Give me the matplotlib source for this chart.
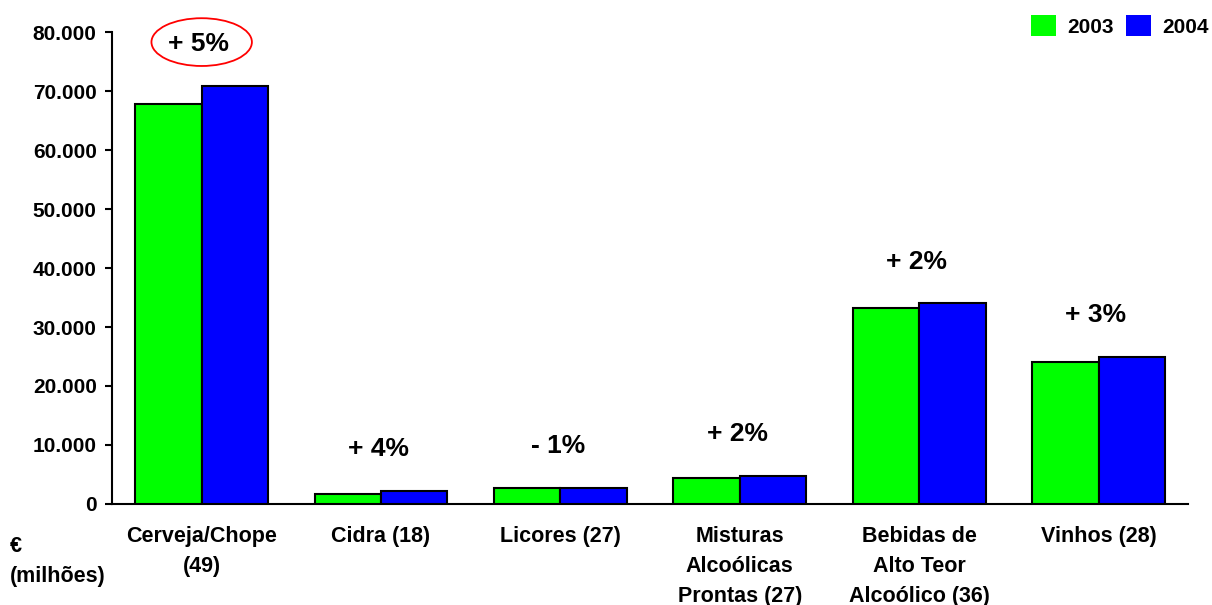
import matplotlib.pyplot as plt
import numpy as np
from matplotlib.patches import Ellipse, Patch
from matplotlib.ticker import FuncFormatter

plt.rcParams['font.family'] = ['Liberation Sans', 'DejaVu Sans']
plt.rcParams['font.weight'] = 'bold'

# Vendas por categoria de bebida, em milhões de euros
categorias = ['Cerveja/Chope\n(49)', 'Cidra (18)', 'Licores (27)',
              'Misturas\nAlcoólicas\nProntas (27)',
              'Bebidas de\nAlto Teor\nAlcoólico (36)', 'Vinhos (28)']
vendas_2003 = [67800, 1700, 2700, 4400, 33200, 24000]
vendas_2004 = [70850, 2200, 2700, 4750, 34000, 24900]
variacao = ['+ 5%', '+ 4%', '- 1%', '+ 2%', '+ 2%', '+ 3%']

cor_2003 = '#00ff00'
cor_2004 = '#0000ff'

fig = plt.figure(figsize=(12.12, 6.05), dpi=100)
ax = fig.add_axes([0.0924, 0.167, 0.888, 0.780])

x = np.arange(len(categorias))
w = 0.37
ax.bar(x - w / 2, vendas_2003, w, color=cor_2003, edgecolor='black', linewidth=1.5, zorder=3)
ax.bar(x + w / 2, vendas_2004, w, color=cor_2004, edgecolor='black', linewidth=1.5, zorder=3)

ax.set_xlim(-0.5, len(categorias) - 0.5)
ax.set_ylim(0, 80000)
ax.set_yticks(np.arange(0, 80001, 10000))
ax.yaxis.set_major_formatter(FuncFormatter(lambda v, p: f'{int(v):,}'.replace(',', '.')))
ax.tick_params(axis='y', labelsize=15, length=5, width=1.5, direction='out', pad=6)
ax.set_xticks(x)
ax.set_xticklabels(categorias, fontsize=15.5, linespacing=1.55)
ax.tick_params(axis='x', length=0, pad=16)

for lado in ['top', 'right']:
    ax.spines[lado].set_visible(False)
for lado in ['left', 'bottom']:
    ax.spines[lado].set_linewidth(1.5)

# variação 2003 -> 2004 acima de cada grupo
for i, txt in enumerate(variacao):
    topo = max(vendas_2003[i], vendas_2004[i])
    ax.annotate(txt, (x[i], topo), xytext=(-2, 30), textcoords='offset points',
                ha='center', va='center', fontsize=19, fontweight='bold')

# destaque em vermelho na cerveja
topo = max(vendas_2003[0], vendas_2004[0])
ax.add_patch(Ellipse((x[0], topo + 7450), 0.56, 8100, fill=False,
                     edgecolor='red', linewidth=1.3, clip_on=False))

fig.text(0.008, 0.072, '€\n(milhões)', fontsize=15.5, fontweight='bold',
         ha='left', va='center', linespacing=1.55)

handles = [Patch(facecolor=cor_2003, edgecolor='none'),
           Patch(facecolor=cor_2004, edgecolor='none')]
fig.legend(handles, ['2003', '2004'], loc='upper right', bbox_to_anchor=(1.013, 1.006),
           ncol=2, frameon=False, fontsize=15, handlelength=1.2, handleheight=1.2,
           handletextpad=0.55, columnspacing=0.6)

fig.savefig('out.png', dpi=100)
